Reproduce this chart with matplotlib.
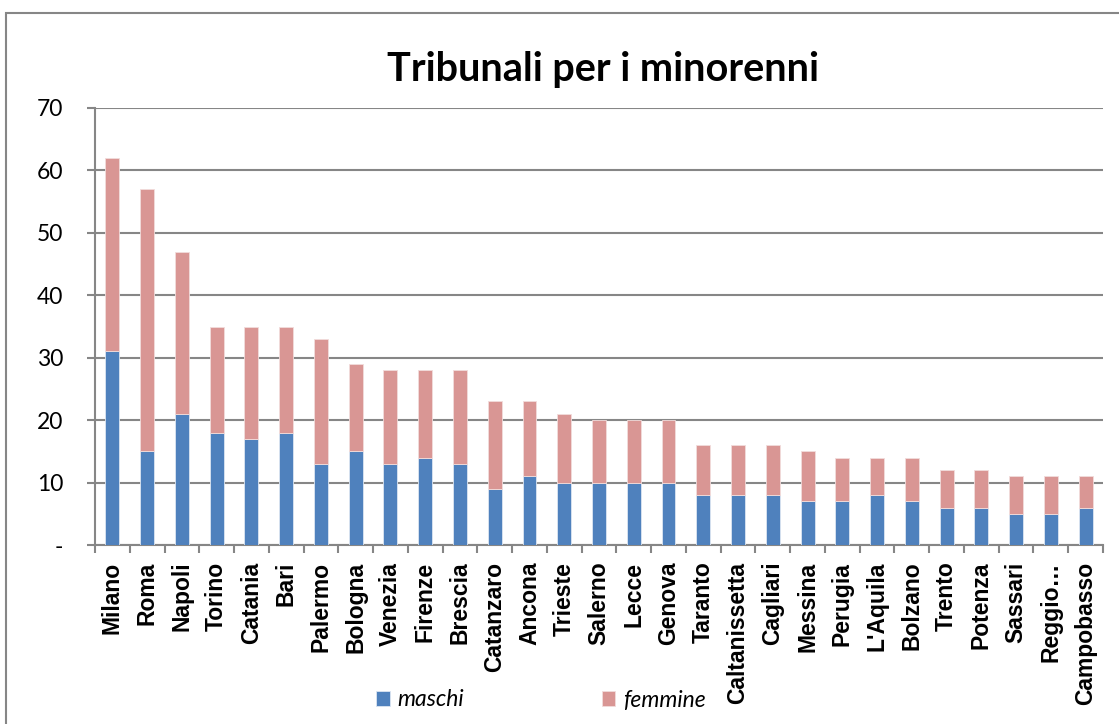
import matplotlib
matplotlib.use("Agg")
import matplotlib.pyplot as plt
import numpy as np
from matplotlib.patches import Rectangle

# Dati
citta = ["Milano", "Roma", "Napoli", "Torino", "Catania", "Bari", "Palermo",
         "Bologna", "Venezia", "Firenze", "Brescia", "Catanzaro", "Ancona",
         "Trieste", "Salerno", "Lecce", "Genova", "Taranto", "Caltanissetta",
         "Cagliari", "Messina", "Perugia", "L'Aquila", "Bolzano", "Trento",
         "Potenza", "Sassari", "Reggio…", "Campobasso"]
maschi = [31, 15, 21, 18, 17, 18, 13, 15, 13, 14, 13, 9, 11, 10, 10, 10, 10,
          8, 8, 8, 7, 7, 8, 7, 6, 6, 5, 5, 6]
femmine = [31, 42, 26, 17, 18, 17, 20, 14, 15, 14, 15, 14, 12, 11, 10, 10, 10,
           8, 8, 8, 8, 7, 6, 7, 6, 6, 6, 6, 5]
yticks = [0, 10, 20, 30, 40, 50, 60, 70]
ylabels = ["-", "10", "20", "30", "40", "50", "60", "70"]

GRIGIO = "#868686"

fig = plt.figure(figsize=(11.19, 7.24), dpi=100)
ax = fig.add_axes([95/1119, 1-545/724, (1103-95)/1119, (545-108)/724])

x = np.arange(len(citta))
ax.bar(x, maschi, width=0.4, color="#4F81BD", edgecolor="#DCE6F2", linewidth=0.6,
       label="maschi", zorder=3)
ax.bar(x, femmine, width=0.4, bottom=maschi, color="#D99694", edgecolor="#F2DCDB",
       linewidth=0.6, label="femmine", zorder=3)

ax.set_xlim(-0.5, len(citta) - 0.5)
ax.set_ylim(0, 70)
ax.set_yticks(yticks)
ax.set_yticklabels(ylabels, fontsize=16.5, family="Lato")
ax.yaxis.grid(True, color=GRIGIO, linewidth=1.5, zorder=0)
ax.tick_params(axis="y", length=6, width=1.5, color=GRIGIO, pad=17)

ax.set_xticks(x)
ax.set_xticklabels(citta, rotation=90, fontsize=16.5, fontweight="bold",
                   family="Liberation Sans", va="top", ha="center")
ax.set_xticks(np.arange(len(citta) + 1) - 0.5, minor=True)
ax.tick_params(axis="x", which="major", length=0, pad=12)
ax.tick_params(axis="x", which="minor", length=6, width=1.5, color=GRIGIO)

for s in ["top", "right"]:
    ax.spines[s].set_visible(False)
for s in ["left", "bottom"]:
    ax.spines[s].set_color(GRIGIO)
    ax.spines[s].set_linewidth(1.5)

fig.text(603/1119, 1-70/724, "Tribunali per i minorenni", ha="center", va="center",
         fontsize=28.5, fontweight="bold", family="Lato")

fig.legend(loc="center", bbox_to_anchor=(541/1119, 1-700/724), ncol=2, frameon=False,
           prop={"family": "Lato", "style": "italic", "size": 16.5},
           handlelength=0.6, handleheight=0.6, handletextpad=0.35, columnspacing=6.0)

# cornice esterna del grafico
fig.patches.append(Rectangle((6/1119, -0.1), 1.2, 1-13/724+0.1, transform=fig.transFigure,
                             fill=False, edgecolor=GRIGIO, linewidth=1.5))

fig.savefig("out.png", dpi=100)
